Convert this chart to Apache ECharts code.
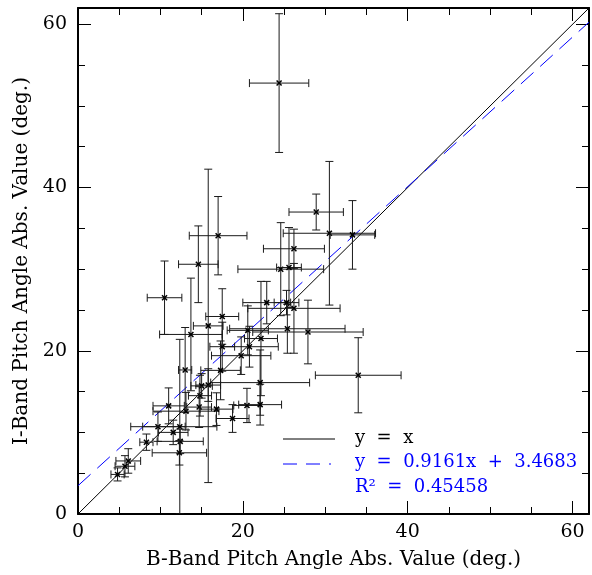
<!DOCTYPE html>
<html>
<head>
<meta charset="utf-8">
<script src="https://cdn.jsdelivr.net/npm/echarts@6/dist/echarts.min.js"></script>
<style>html,body{margin:0;padding:0;background:#fff}#c{width:592px;height:575px}</style>
</head>
<body>
<div id="c"></div>
<script>
// B-band pitch angle (x), its error, I-band pitch angle (y), its error
const bAngle = [24.4,17.0,14.6,28.9,30.5,33.3,26.2,24.6,25.6,34.0,27.9,26.2,10.5,13.7,17.5,15.8,22.9,25.3,20.6,20.8,22.2,25.4,19.8,17.5,17.3,13.0,22.1,15.8,14.8,15.0,13.1,11.0,14.7,16.8,20.5,22.1,18.75,9.7,11.55,12.35,12.4,8.3,12.3,6.1,5.7,4.8];
const bErr   = [3.6,3.5,2.4,3.3,5.6,2.7,3.7,5.2,1.5,5.2,6.7,5.6,2.1,3.8,2.0,1.8,2.9,1.5,2.5,3.5,2.0,7.0,3.6,1.5,2.4,0.8,6.0,1.5,1.4,1.3,4.0,1.9,1.5,2.0,1.6,2.6,2.0,3.3,1.8,4.5,2.8,0.8,3.3,1.5,1.2,0.8];
const iAngle = [52.8,34.1,30.6,37.0,34.4,34.2,32.5,30.0,30.2,17.0,22.3,25.2,26.5,22.0,24.2,23.05,25.9,25.9,22.5,20.5,21.5,22.7,19.4,20.5,17.6,17.65,16.1,15.8,14.5,15.7,12.6,13.25,13.1,12.85,13.3,13.4,11.7,10.7,10.0,10.7,8.9,8.8,7.5,6.5,5.85,4.85];
const iErr   = [8.5,4.8,4.7,2.2,8.8,4.2,2.4,5.7,4.9,4.6,3.9,5.5,4.5,6.9,3.4,19.2,2.6,1.5,3.0,2.5,7.0,3.0,2.3,3.0,3.6,5.2,4.0,2.0,2.5,1.5,2.3,2.2,2.5,2.0,2.1,2.5,1.7,1.8,1.5,10.7,1.5,1.0,1.5,1.5,1.3,0.8];
const fitSlope = [0.9161];
const fitIntercept = [3.4683];
const axisMin = 0, axisMax = 62;
const xTickLabels = ['0','20','40','60'];
const yTickLabels = ['0','20','40','60'];
const legendTexts = ['y  =  x', 'y  =  0.9161x  +  3.4683', 'R²  =  0.45458'];

const FONT = 'DejaVu Serif';
const pts = bAngle.map((x,i)=>[x, iAngle[i], bErr[i], iErr[i]]);
const oneToOne = [[axisMin,axisMin],[axisMax,axisMax]];
const fitLine = [[axisMin, fitSlope[0]*axisMin+fitIntercept[0]],[axisMax, fitSlope[0]*axisMax+fitIntercept[0]]];

function mkAxis(pos, interval, tickLen, showLine, showLabel, labels, isX) {
  return {
    type:'value', position: pos, min:axisMin, max:axisMax, interval: interval,
    axisLine:{show:showLine, onZero:false, lineStyle:{color:'#000', width:2}},
    axisTick:{show:true, inside:true, length:tickLen, lineStyle:{color:'#000', width:1}},
    splitLine:{show:false},
    axisLabel:{show:showLabel, showMaxLabel:false, color:'#000', fontFamily:FONT, fontSize:19,
      margin: isX ? 9 : 11,
      formatter: v => { const idx = labels.indexOf(String(v)); return idx>=0 ? labels[idx] : ''; }},
  };
}

const xAxes = [
  Object.assign(mkAxis('bottom',20,13,true,true,xTickLabels,true),{
    name:'B-Band Pitch Angle Abs. Value (deg.)', nameLocation:'middle', nameGap:36,
    nameTextStyle:{color:'#000', fontFamily:FONT, fontSize:20}}),
  mkAxis('bottom',5,7,false,false,xTickLabels,true),
  mkAxis('top',20,13,true,false,xTickLabels,true),
  mkAxis('top',5,7,false,false,xTickLabels,true),
];
const yAxes = [
  Object.assign(mkAxis('left',20,13,true,true,yTickLabels,false),{
    name:'I-Band Pitch Angle Abs. Value (deg.)', nameLocation:'middle', nameGap:36,
    nameTextStyle:{color:'#000', fontFamily:FONT, fontSize:20}}),
  mkAxis('left',5,7,false,false,yTickLabels,false),
  mkAxis('right',20,13,true,false,yTickLabels,false),
  mkAxis('right',5,7,false,false,yTickLabels,false),
];

const chart = echarts.init(document.getElementById('c'), null, {renderer:'canvas'});
chart.setOption({
  animation:false,
  backgroundColor:'#fff',
  grid:{left:78, top:8, width:511, height:512, containLabel:false},
  xAxis:xAxes, yAxis:yAxes,
  series:[
    {type:'line', data:oneToOne, xAxisIndex:0, yAxisIndex:0, symbol:'none',
     lineStyle:{color:'#000', width:1}, z:3},
    {type:'line', data:fitLine, xAxisIndex:0, yAxisIndex:0, symbol:'none',
     lineStyle:{color:'#0000ff', width:1, type:[17,9]}, z:3},
    {type:'custom', data:pts, xAxisIndex:0, yAxisIndex:0, clip:true, z:4,
     renderItem:(params, api)=>{
       const x=api.value(0), y=api.value(1), xe=api.value(2), ye=api.value(3);
       const c=api.coord([x,y]);
       const l=api.coord([x-xe,y]), r=api.coord([x+xe,y]);
       const t=api.coord([x,y+ye]), b=api.coord([x,y-ye]);
       const cap=4, m=2.5;
       const st={stroke:'#1a1a1a', lineWidth:1};
       const L=(x1,y1,x2,y2)=>({type:'line', shape:{x1,y1,x2,y2}, style:st});
       return {type:'group', children:[
         L(l[0],c[1],r[0],c[1]),
         L(l[0],c[1]-cap,l[0],c[1]+cap),
         L(r[0],c[1]-cap,r[0],c[1]+cap),
         L(c[0],t[1],c[0],b[1]),
         L(c[0]-cap,t[1],c[0]+cap,t[1]),
         L(c[0]-cap,b[1],c[0]+cap,b[1]),
         {type:'line', shape:{x1:c[0]-m,y1:c[1]-m,x2:c[0]+m,y2:c[1]+m}, style:{stroke:'#000',lineWidth:1.5}},
         {type:'line', shape:{x1:c[0]-m,y1:c[1]+m,x2:c[0]+m,y2:c[1]-m}, style:{stroke:'#000',lineWidth:1.5}},
       ]};
     }}
  ],
  graphic:[
    {type:'line', shape:{x1:283,y1:439,x2:335,y2:439}, style:{stroke:'#000', lineWidth:1}},
    {type:'line', shape:{x1:283,y1:464,x2:331,y2:464}, style:{stroke:'#0000ff', lineWidth:1, lineDash:[14,9]}},
    {type:'text', left:355, top:429, style:{text:legendTexts[0], fill:'#000', font:'18px "DejaVu Serif"'}},
    {type:'text', left:355, top:453, style:{text:legendTexts[1], fill:'#0000ff', font:'18px "DejaVu Serif"'}},
    {type:'text', left:355, top:478, style:{text:legendTexts[2], fill:'#0000ff', font:'18px "DejaVu Serif"'}},
  ]
});
</script>
</body>
</html>
